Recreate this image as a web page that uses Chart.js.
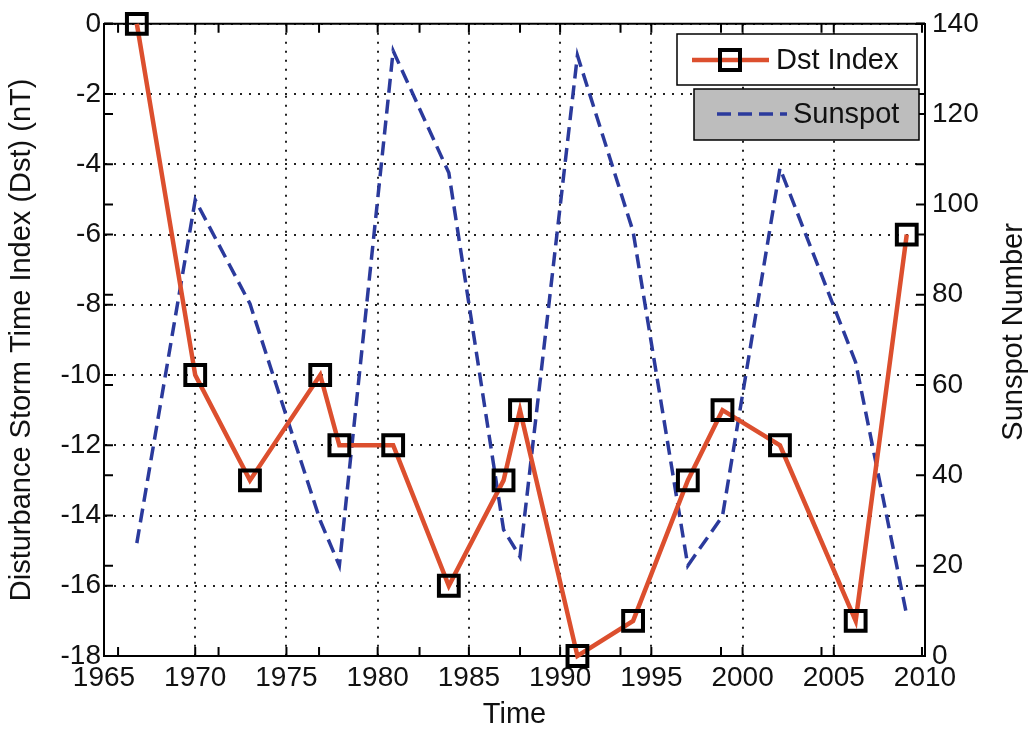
<!DOCTYPE html>
<html>
<head>
<meta charset="utf-8">
<script src="https://cdn.jsdelivr.net/npm/chart.js@4"></script>
<style>
  body { margin: 0; background: #fff; }
  #wrap { width: 1029px; height: 732px; }
</style>
</head>
<body>
<div id="wrap"><canvas id="dstChart"></canvas></div>
<script>
// data
const years = [1966.8, 1970, 1973, 1976.85, 1977.9, 1980.85, 1983.9, 1986.9, 1987.8, 1990.95, 1994, 1997, 1998.9, 2002.05, 2006.2, 2009];
const dstIndex = [0, -10, -13, -10, -12, -12, -16, -13, -11, -18, -17, -13, -11, -12, -17, -6];
const sunspots = [25, 101, 78, 30, 20, 134, 107, 28, 22, 133, 94, 20, 31, 108, 65, 9];

const xTicks = [1965, 1970, 1975, 1980, 1985, 1990, 1995, 2000, 2005, 2010];
const dstTicks = [-18, -16, -14, -12, -10, -8, -6, -4, -2, 0];
const sunTicks = [0, 20, 40, 60, 80, 100, 120, 140];
// ticks of the second (sunspot) axes, unlabeled
const x2Ticks = [0, 1, 2, 3, 4, 5, 6, 7, 8];

const FONT = "'Liberation Sans', Arial, Helvetica, sans-serif";
const RED = '#dc4f2e';
const BLUE = '#2b3a9c';
const rightTitle = 'Sunspot Number';

const toPoints = (xs, ys) => xs.map((x, i) => ({ x: x, y: ys[i] }));
const setTicks = (vals) => (scale) => { scale.ticks = vals.map(v => ({ value: v })); };

// matlab style ticks pointing into the box, on both sides
const innerTicks = {
  id: 'innerTicks',
  beforeDatasetsDraw(chart) {
    const ctx = chart.ctx;
    const a = chart.chartArea;
    const len = 9;
    ctx.save();
    ctx.strokeStyle = '#000';
    ctx.lineWidth = 2;
    ['x', 'x2'].forEach(id => {
      const s = chart.scales[id];
      s.ticks.forEach(t => {
        const px = s.getPixelForValue(t.value);
        ctx.beginPath();
        ctx.moveTo(px, a.bottom); ctx.lineTo(px, a.bottom - len);
        ctx.moveTo(px, a.top); ctx.lineTo(px, a.top + len);
        ctx.stroke();
      });
    });
    ['y', 'y1'].forEach(id => {
      const s = chart.scales[id];
      s.ticks.forEach(t => {
        const py = s.getPixelForValue(t.value);
        ctx.beginPath();
        ctx.moveTo(a.left, py); ctx.lineTo(a.left + len, py);
        ctx.moveTo(a.right, py); ctx.lineTo(a.right - len, py);
        ctx.stroke();
      });
    });
    // top edge of the box
    ctx.beginPath();
    ctx.moveTo(a.left, a.top); ctx.lineTo(a.right, a.top);
    ctx.stroke();
    ctx.restore();
  }
};

// two separate legend boxes like plotyy gives, plus the right axis title read bottom-up
const twoLegends = {
  id: 'twoLegends',
  afterDraw(chart) {
    const ctx = chart.ctx;
    const d0 = chart.data.datasets[0];
    const d1 = chart.data.datasets[1];
    ctx.save();
    ctx.font = '29px ' + FONT;
    ctx.textBaseline = 'middle';

    ctx.fillStyle = '#fff';
    ctx.fillRect(677, 34, 240, 51);
    ctx.strokeStyle = '#000';
    ctx.lineWidth = 1.5;
    ctx.strokeRect(677, 34, 240, 51);
    ctx.strokeStyle = d0.borderColor;
    ctx.lineWidth = d0.borderWidth;
    ctx.beginPath(); ctx.moveTo(692, 60); ctx.lineTo(769, 60); ctx.stroke();
    ctx.strokeStyle = d0.pointBorderColor;
    ctx.lineWidth = d0.pointBorderWidth;
    ctx.strokeRect(720, 50, 20, 20);
    ctx.fillStyle = '#111';
    ctx.fillText(d0.label, 776, 61);

    ctx.fillStyle = '#bdbdbd';
    ctx.fillRect(694, 89, 225, 51);
    ctx.strokeStyle = '#000';
    ctx.lineWidth = 1.5;
    ctx.strokeRect(694, 89, 225, 51);
    ctx.strokeStyle = d1.borderColor;
    ctx.lineWidth = d1.borderWidth;
    ctx.setLineDash(d1.borderDash);
    ctx.beginPath(); ctx.moveTo(717, 114); ctx.lineTo(787, 114); ctx.stroke();
    ctx.setLineDash([]);
    ctx.fillStyle = '#111';
    ctx.fillText(d1.label, 793, 115);

    const a = chart.chartArea;
    ctx.translate(1014, (a.top + a.bottom) / 2 - 8);
    ctx.rotate(-Math.PI / 2);
    ctx.textAlign = 'center';
    ctx.fillText(rightTitle, 0, 0);
    ctx.restore();
  }
};

const tickFont = { family: FONT, size: 28 };
const titleFont = { family: FONT, size: 29 };

new Chart(document.getElementById('dstChart'), {
  type: 'line',
  data: {
    datasets: [
      {
        label: 'Dst Index',
        data: toPoints(years, dstIndex),
        xAxisID: 'x',
        yAxisID: 'y',
        borderColor: RED,
        borderWidth: 4.5,
        pointStyle: 'rect',
        pointRadius: 14,
        pointBackgroundColor: 'rgba(0,0,0,0)',
        pointBorderColor: '#000',
        pointBorderWidth: 4,
        clip: false,
        tension: 0
      },
      {
        label: 'Sunspot',
        data: toPoints(years, sunspots),
        xAxisID: 'x',
        yAxisID: 'y1',
        borderColor: BLUE,
        borderWidth: 3.5,
        borderDash: [14, 7],
        pointRadius: 0,
        tension: 0
      }
    ]
  },
  options: {
    responsive: true,
    maintainAspectRatio: false,
    animation: false,
    layout: { padding: { top: 23, left: 0, right: 0, bottom: 0 } },
    plugins: {
      legend: { display: false },
      tooltip: { enabled: false }
    },
    scales: {
      x: {
        type: 'linear',
        position: 'bottom',
        min: 1965,
        max: 2010,
        afterBuildTicks: setTicks(xTicks),
        afterFit: (s) => { s.height = 76; },
        ticks: { font: tickFont, color: '#111', padding: 5, autoSkip: false, maxRotation: 0, callback: v => String(v) },
        grid: { color: '#222', lineWidth: 2, drawTicks: false },
        border: { color: '#000', width: 2, dash: [2, 7] },
        title: { display: true, text: 'Time', font: titleFont, color: '#111', padding: { top: 3, bottom: 0 } }
      },
      x2: {
        type: 'linear',
        position: 'top',
        display: false,
        min: -0.14,
        max: 8.03,
        afterBuildTicks: setTicks(x2Ticks)
      },
      y: {
        type: 'linear',
        position: 'left',
        min: -18,
        max: 0,
        afterBuildTicks: setTicks(dstTicks),
        afterFit: (s) => { s.width = 104; },
        ticks: { font: tickFont, color: '#111', padding: 3, callback: v => String(v) },
        grid: { color: '#222', lineWidth: 2, drawTicks: false },
        border: { color: '#000', width: 2, dash: [2, 7] },
        title: { display: true, text: 'Disturbance Storm Time Index (Dst) (nT)', font: titleFont, color: '#111', padding: { top: 5, bottom: 0 } }
      },
      y1: {
        type: 'linear',
        position: 'right',
        min: 0,
        max: 140,
        afterBuildTicks: setTicks(sunTicks),
        afterFit: (s) => { s.width = 104; },
        ticks: { font: tickFont, color: '#111', padding: 7, callback: v => String(v) },
        grid: { drawOnChartArea: false, drawTicks: false },
        border: { color: '#000', width: 2 }
      }
    }
  },
  plugins: [innerTicks, twoLegends]
});
</script>
</body>
</html>
